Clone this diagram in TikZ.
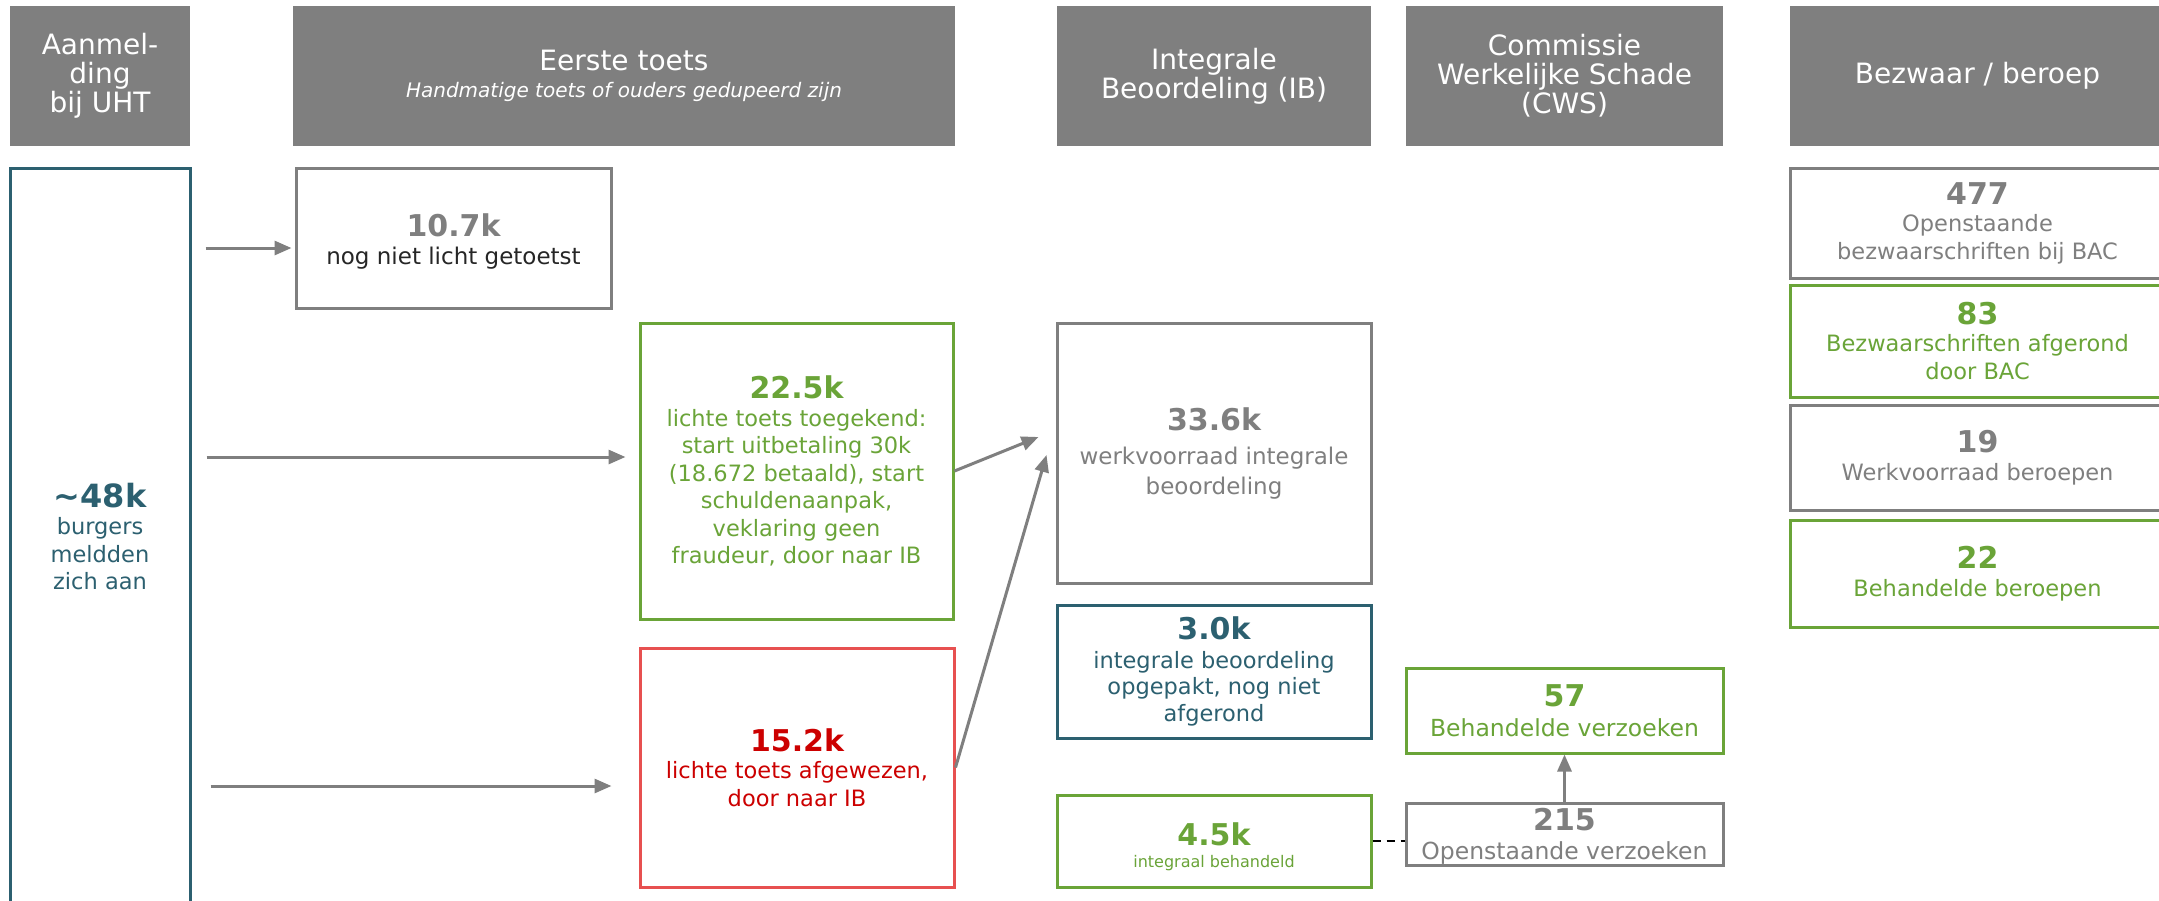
\documentclass[tikz,border=0pt]{standalone}
\usepackage{fontspec}
\setmainfont{DejaVu Sans}
\usetikzlibrary{arrows.meta,calc}

\definecolor{kopgrijs}{RGB}{127,127,127}
\definecolor{grijs}{RGB}{127,127,127}
\definecolor{donker}{RGB}{38,38,38}
\definecolor{groen}{RGB}{106,164,56}
\definecolor{rood}{RGB}{231,80,80}
\definecolor{roodtekst}{RGB}{204,0,0}
\definecolor{petrol}{RGB}{44,96,112}
\newcommand{\getal}[1]{{\bfseries\fontsize{30}{30}\selectfont #1}}

\begin{document}
\begin{tikzpicture}[x=1pt, y=-1pt,
    kop/.style={fill=kopgrijs, text=white, inner sep=0pt, align=center, minimum height=140pt, font=\fontsize{28}{29}\selectfont},
    vak/.style={draw, line width=3pt, fill=white, inner sep=0pt, align=center, font=\fontsize{22.5}{27.5}\selectfont},
    pijl/.style={draw=grijs, line width=3pt, -{Triangle[length=17pt,width=14pt]}}]

    \path[use as bounding box, fill=white] (0,0) rectangle (2159,900);

    % kopjes
    \node[kop, minimum width=180pt] (kopUHT) at (100,76) {Aanmel-\\ding\\bij UHT};
    \node[kop, minimum width=662pt] (kopToets) at (624,76) {Eerste toets\\[-2pt]{\itshape\fontsize{20}{24}\selectfont Handmatige toets of ouders gedupeerd zijn}};
    \node[kop, minimum width=314pt] (kopIB) at (1214,76) {Integrale\\Beoordeling (IB)};
    \node[kop, minimum width=317pt] (kopCWS) at (1564.5,76) {Commissie\\Werkelijke Schade\\(CWS)};
    \node[kop, minimum width=375pt] (kopBezwaar) at (1977.5,76) {Bezwaar / beroep};

    % aanmelding en eerste toets
    \node[vak, draw=petrol, text=petrol, minimum width=180pt, minimum height=737pt] (aanmelding) at (100,536.5) {{\bfseries\fontsize{32}{32}\selectfont \textasciitilde48k}\\burgers\\meldden\\zich aan};
    \node[vak, draw=grijs, text=grijs, minimum width=315pt, minimum height=140pt] (nietGetoetst) at (453.5,238) {\getal{\rule{0pt}{30pt}10.7k}\\{\color{donker}\fontsize{23}{28}\selectfont nog niet licht getoetst}};
    \node[vak, draw=groen, text=groen, minimum width=313pt, minimum height=296pt] (toegekend) at (796.5,471) {\getal{22.5k}\\lichte toets toegekend:\\start uitbetaling 30k\\(18.672 betaald), start\\schuldenaanpak,\\veklaring geen\\fraudeur, door naar IB};
    \node[vak, draw=rood, text=roodtekst, minimum width=314pt, minimum height=239pt] (afgewezen) at (797,767.5) {\getal{15.2k}\\lichte toets afgewezen,\\door naar IB};

    % integrale beoordeling
    \node[vak, draw=grijs, text=grijs, minimum width=314pt, minimum height=260pt, font=\fontsize{23}{30}\selectfont] (werkvoorraad) at (1214,453) {\getal{33.6k}\\[4pt]werkvoorraad integrale\\beoordeling};
    \node[vak, draw=petrol, text=petrol, minimum width=314pt, minimum height=133pt, font=\fontsize{22.5}{26.5}\selectfont] (opgepakt) at (1214,671.5) {\getal{3.0k}\\[2pt]integrale beoordeling\\opgepakt, nog niet\\afgerond};
    \node[vak, draw=groen, text=groen, minimum width=314pt, minimum height=92pt, font=\fontsize{16}{22}\selectfont] (integraal) at (1214,841) {\getal{\rule{0pt}{34pt}4.5k}\\integraal behandeld};

    % CWS
    \node[vak, draw=groen, text=groen, minimum width=317pt, minimum height=85pt, font=\fontsize{23.5}{30}\selectfont] (cwsBehandeld) at (1564.5,710.5) {\getal{57}\\Behandelde verzoeken};
    \node[vak, draw=grijs, text=grijs, minimum width=317pt, minimum height=62pt, font=\fontsize{23.5}{29}\selectfont] (cwsOpen) at (1564.5,834) {\getal{\rule{0pt}{27pt}215}\\Openstaande verzoeken};

    % bezwaar en beroep
    \node[vak, draw=grijs, text=grijs, minimum width=375pt, minimum height=110pt] (bacOpen) at (1977.5,223) {\getal{477}\\Openstaande\\bezwaarschriften bij BAC};
    \node[vak, draw=groen, text=groen, minimum width=375pt, minimum height=112pt] (bacAfgerond) at (1977.5,341) {\getal{83}\\Bezwaarschriften afgerond\\door BAC};
    \node[vak, draw=grijs, text=grijs, minimum width=375pt, minimum height=105pt] (beroepOpen) at (1977.5,457.5) {\getal{19}\\Werkvoorraad beroepen};
    \node[vak, draw=groen, text=groen, minimum width=375pt, minimum height=107pt] (beroepBehandeld) at (1977.5,573.5) {\getal{22}\\Behandelde beroepen};

    % pijlen
    \draw[pijl] ($(aanmelding.east |- nietGetoetst.west)+(14,10)$) -- ($(nietGetoetst.west)+(-3,10)$);
    \draw[pijl] ($(aanmelding.east |- toegekend.west)+(15,-14)$) -- ($(toegekend.west)+(-13,-14)$);
    \draw[pijl] ($(aanmelding.east |- afgewezen.west)+(19,18.5)$) -- ($(afgewezen.west)+(-27,18.5)$);
    \draw[pijl] (toegekend.east) -- ($(werkvoorraad.west)+(-17,-16)$);
    \draw[pijl] (afgewezen.east) -- ($(werkvoorraad.west)+(-9,2)$);
    \draw[pijl] (cwsOpen.north) -- (cwsBehandeld.south);
    \draw[line width=2.5pt, dash pattern=on 8pt off 6pt] (integraal.east) -- (integraal.east -| cwsOpen.west);
\end{tikzpicture}
\end{document}
